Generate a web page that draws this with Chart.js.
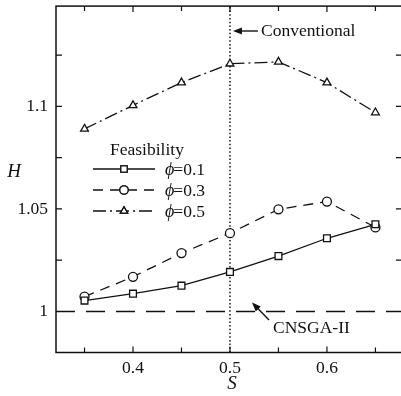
<!DOCTYPE html>
<html>
<head>
<meta charset="utf-8">
<script src="https://cdn.jsdelivr.net/npm/chart.js@4"></script>
<style>
  html, body { margin: 0; padding: 0; background: #fff; overflow: hidden; }
  #wrap { width: 401px; height: 396px; overflow: hidden; }
</style>
</head>
<body>
<div id="wrap"><canvas id="chart" width="408" height="396"></canvas></div>
<script>
// values
const sValues = [0.35, 0.4, 0.45, 0.5, 0.55, 0.6, 0.65];
const hPhi01 = [1.0053, 1.0087, 1.0126, 1.0193, 1.027, 1.0357, 1.0425];
const hPhi03 = [1.0072, 1.0169, 1.0285, 1.0382, 1.0498, 1.0536, 1.041];
const hPhi05 = [1.089, 1.1005, 1.1116, 1.1208, 1.1217, 1.1116, 1.097];
const seriesNames = ['=0.1', '=0.3', '=0.5'];
const cnsgaLevel = 1;          // CNSGA-II reference H
const conventionalS = 0.5;     // conventional S
const xTicks = [0.4, 0.5, 0.6];
const xMinorTicks = [0.35, 0.45, 0.55, 0.65];
const yTicks = [1, 1.05, 1.1];
const yMinorTicks = [1.025, 1.075, 1.125];
const xRange = [0.3206, 0.6773];
const yRange = [0.98, 1.1489];

const FONT = '"Liberation Serif", "Times New Roman", serif';
const pts = ys => sValues.map((s, i) => ({ x: s, y: ys[i] }));

const lineStyles = [
  { dash: [], point: 'rect', radius: 4.8 },
  { dash: [10, 7], point: 'circle', radius: 4.5 },
  { dash: [13, 4, 2, 4], point: 'triangle', radius: 4.5 }
];

const mkSeries = (ys, i) => ({
  label: seriesNames[i],
  data: pts(ys),
  borderColor: '#111',
  borderWidth: 1.3,
  borderDash: lineStyles[i].dash,
  pointStyle: lineStyles[i].point,
  pointRadius: lineStyles[i].radius,
  pointBackgroundColor: '#fff',
  pointBorderColor: '#111',
  pointBorderWidth: 1.3,
  fill: false,
  tension: 0
});

const frame = {
  id: 'frame',
  afterDraw(chart) {
    const { ctx, chartArea: a, scales: { x, y } } = chart;
    ctx.save();
    ctx.strokeStyle = '#111';
    ctx.lineWidth = 1.5;
    ctx.strokeRect(a.left, a.top, a.right - a.left, a.bottom - a.top);
    ctx.lineWidth = 1.2;
    ctx.beginPath();
    const tick = (vals, len) => {
      vals.forEach(v => {
        const px = x.getPixelForValue(v);
        ctx.moveTo(px, a.bottom); ctx.lineTo(px, a.bottom - len);
        ctx.moveTo(px, a.top); ctx.lineTo(px, a.top + len);
      });
    };
    tick(xTicks, 6); tick(xMinorTicks, 5);
    yTicks.concat(yMinorTicks).forEach(v => {
      const py = y.getPixelForValue(v);
      ctx.moveTo(a.left, py); ctx.lineTo(a.left + 6, py);
      ctx.moveTo(a.right, py); ctx.lineTo(a.right - 6, py);
    });
    ctx.stroke();

    // axis titles
    ctx.fillStyle = '#111';
    ctx.font = 'italic 19px ' + FONT;
    ctx.textAlign = 'center';
    ctx.textBaseline = 'middle';
    ctx.fillText('H', 14, 172);
    ctx.fillText('S', 232, 384);

    // annotations
    ctx.font = '17.5px ' + FONT;
    ctx.textAlign = 'left';
    const cx = x.getPixelForValue(conventionalS);
    ctx.fillText('Conventional', cx + 31, 31);
    arrow(ctx, cx + 28, 31, cx + 3, 31);
    const cy = y.getPixelForValue(cnsgaLevel);
    ctx.fillText('CNSGA-II', 273, 328);
    arrow(ctx, 269, 320, 252, cy - 9);

    // legend
    ctx.fillText('Feasibility', 110, 150);
    const rows = [169, 190, 211];
    chart.data.datasets.slice(0, 3).forEach((ds, i) => {
      const ry = rows[i];
      ctx.setLineDash(ds.borderDash);
      ctx.lineWidth = 1.3;
      ctx.beginPath();
      ctx.moveTo(93, ry); ctx.lineTo(155, ry);
      ctx.stroke();
      ctx.setLineDash([]);
      Chart.helpers.drawPoint(ctx, {
        pointStyle: ds.pointStyle, radius: ds.pointRadius - 0.3, rotation: 0, borderWidth: 1.3
      }, 124, ry);
      ctx.fillStyle = '#fff';
      ctx.fill();
      ctx.stroke();
      ctx.fillStyle = '#111';
      ctx.font = 'italic 18px ' + FONT;
      ctx.fillText('\u03d5', 165, ry + 1);
      const w = ctx.measureText('\u03d5').width;
      ctx.font = '17.5px ' + FONT;
      ctx.fillText(ds.label, 165 + w - 1, ry + 1);
    });
    ctx.restore();
  }
};

function arrow(ctx, x1, y1, x2, y2) {
  const ang = Math.atan2(y2 - y1, x2 - x1);
  ctx.lineWidth = 1.4;
  ctx.setLineDash([]);
  ctx.beginPath();
  ctx.moveTo(x1, y1);
  ctx.lineTo(x2 - 6 * Math.cos(ang), y2 - 6 * Math.sin(ang));
  ctx.stroke();
  ctx.beginPath();
  ctx.moveTo(x2, y2);
  ctx.lineTo(x2 - 9 * Math.cos(ang) + 3.5 * Math.sin(ang), y2 - 9 * Math.sin(ang) - 3.5 * Math.cos(ang));
  ctx.lineTo(x2 - 9 * Math.cos(ang) - 3.5 * Math.sin(ang), y2 - 9 * Math.sin(ang) + 3.5 * Math.cos(ang));
  ctx.closePath();
  ctx.fill();
}

new Chart(document.getElementById('chart'), {
  type: 'line',
  data: {
    datasets: [
      mkSeries(hPhi01, 0),
      mkSeries(hPhi03, 1),
      mkSeries(hPhi05, 2),
      {
        label: 'CNSGA-II',
        data: [{ x: xRange[0], y: cnsgaLevel }, { x: xRange[1], y: cnsgaLevel }],
        borderColor: '#111', borderWidth: 1.3, borderDash: [19, 11], pointRadius: 0
      },
      {
        label: 'Conventional',
        data: [{ x: conventionalS, y: yRange[0] }, { x: conventionalS, y: yRange[1] }],
        borderColor: '#111', borderWidth: 1.5, borderDash: [1.5, 2.2], pointRadius: 0
      }
    ]
  },
  options: {
    responsive: false,
    animation: false,
    layout: { padding: { top: 2, right: 2, left: 0, bottom: 0 } },
    plugins: { legend: { display: false }, tooltip: { enabled: false } },
    scales: {
      x: {
        type: 'linear', min: xRange[0], max: xRange[1],
        grid: { display: false, drawTicks: false },
        border: { display: false },
        afterBuildTicks: s => { s.ticks = xTicks.map(v => ({ value: v })); },
        afterFit: s => { s.height = 43.5; s.paddingLeft = 0; s.paddingRight = 0; },
        ticks: { color: '#111', padding: 5, font: { family: FONT, size: 17.5 }, callback: v => String(v) }
      },
      y: {
        type: 'linear', min: yRange[0], max: yRange[1],
        grid: { display: false, drawTicks: false },
        border: { display: false },
        afterBuildTicks: s => { s.ticks = yTicks.map(v => ({ value: v })); },
        afterFit: s => { s.width = 56; s.paddingTop = 0; s.paddingBottom = 0; },
        ticks: { color: '#111', padding: 8, font: { family: FONT, size: 17.5 }, callback: v => String(v) }
      }
    }
  },
  plugins: [frame]
});
</script>
</body>
</html>
